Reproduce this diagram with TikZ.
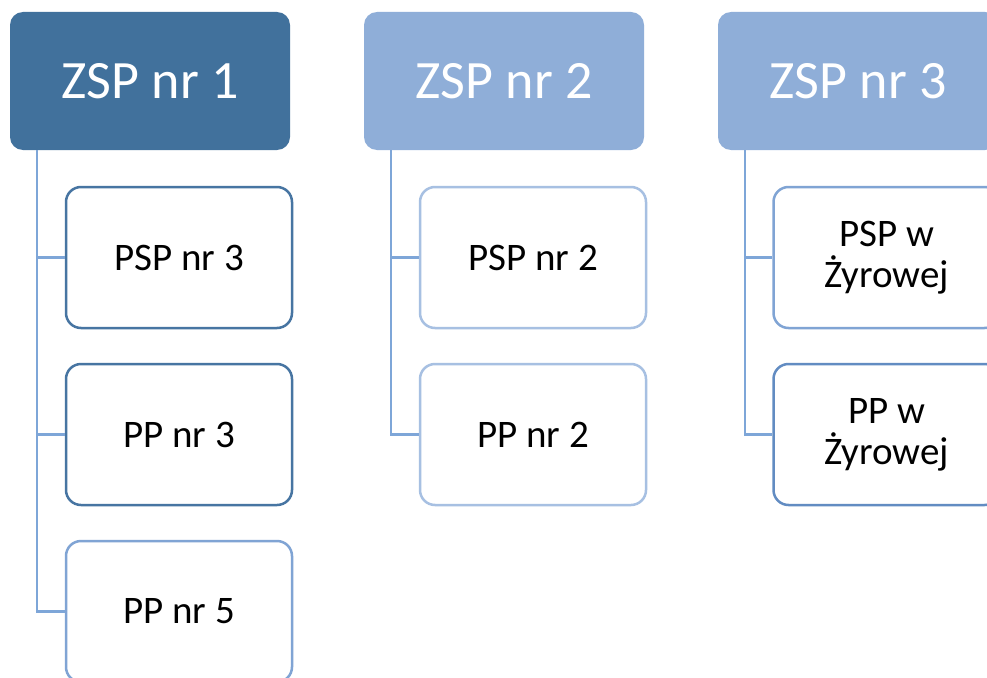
\documentclass[tikz,border=0pt]{standalone}
\usepackage{fontspec}
\setmainfont{Carlito}
\definecolor{hdark}{RGB}{65,113,156}
\definecolor{hlight}{RGB}{143,174,216}
\definecolor{bdark}{RGB}{71,117,162}
\definecolor{bmid}{RGB}{98,140,194}
\definecolor{blight}{RGB}{128,164,212}
\definecolor{bpale}{RGB}{167,192,226}
\definecolor{conn}{RGB}{126,166,216}
\begin{document}
\begin{tikzpicture}[x=1pt,y=-1pt,
  hdr/.style={rectangle,rounded corners=13pt,minimum width=280pt,minimum height=138pt,inner sep=0pt,text=white,font=\fontsize{54}{60}\selectfont},
  child/.style={rectangle,rounded corners=15pt,minimum width=226pt,minimum height=141pt,inner sep=0pt,fill=white,line width=2.5pt,align=center,font=\fontsize{39}{41}\selectfont},
  connline/.style={draw=conn,line width=2.5pt}]
\useasboundingbox (0,0) rectangle (987,677);
\clip (0,0) rectangle (987,677);
\fill[white] (0,0) rectangle (987,677);
% headers
\node[hdr,fill=hdark] (h1) at (150,81) {ZSP nr 1};
\node[hdr,fill=hlight] (h2) at (504,81) {ZSP nr 2};
\node[hdr,fill=hlight] (h3) at (858,81) {ZSP nr 3};
% connectors
\coordinate (t1) at ([xshift=27pt]h1.south west);
\coordinate (t2) at ([xshift=27pt]h2.south west);
\coordinate (t3) at ([xshift=27pt]h3.south west);
% column 1
\node[child,draw=bdark] (c11) at (179,257.5) {PSP nr 3};
\node[child,draw=bdark] (c12) at (179,434.5) {PP nr 3};
\node[child,draw=blight] (c13) at (179,611.5) {PP nr 5};
% column 2
\node[child,draw=bpale] (c21) at (533,257.5) {PSP nr 2};
\node[child,draw=bpale] (c22) at (533,434.5) {PP nr 2};
% column 3
\node[child,draw=blight] (c31) at (886.5,257.5) {PSP w\\Żyrowej};
\node[child,draw=bmid] (c32) at (886.5,434.5) {PP w\\Żyrowej};
\draw[connline] (t1) |- (c13.west);
\draw[connline] (t1) |- (c12.west);
\draw[connline] (t1) |- (c11.west);
\draw[connline] (t2) |- (c22.west);
\draw[connline] (t2) |- (c21.west);
\draw[connline] (t3) |- (c32.west);
\draw[connline] (t3) |- (c31.west);
\end{tikzpicture}
\end{document}
